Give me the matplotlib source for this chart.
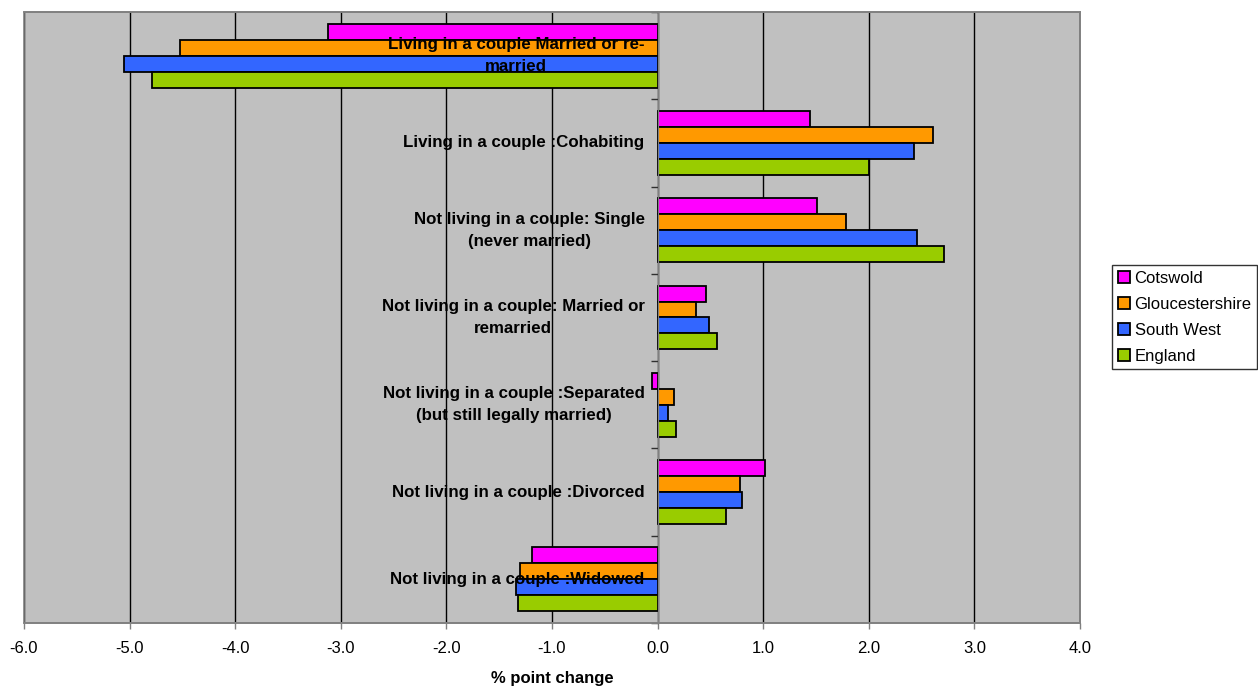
import matplotlib
matplotlib.use("Agg")
import matplotlib.pyplot as plt
import numpy as np
from matplotlib.patches import Rectangle

plt.rcParams['font.family'] = ['Liberation Sans', 'DejaVu Sans']

# Data (% point change)
categories = [
    "Living in a couple Married or re-\nmarried",
    "Living in a couple :Cohabiting",
    "Not living in a couple: Single\n(never married)",
    "Not living in a couple: Married or\nremarried",
    "Not living in a couple :Separated\n(but still legally married)",
    "Not living in a couple :Divorced",
    "Not living in a couple :Widowed",
]
series_names = ["Cotswold", "Gloucestershire", "South West", "England"]
cotswold = [-3.12, 1.44, 1.51, 0.46, -0.05, 1.02, -1.19]
gloucestershire = [-4.52, 2.61, 1.78, 0.36, 0.16, 0.78, -1.30]
south_west = [-5.05, 2.43, 2.46, 0.49, 0.10, 0.80, -1.34]
england = [-4.79, 2.00, 2.71, 0.56, 0.17, 0.65, -1.32]
colors = ["#FF00FF", "#FF9900", "#3366FF", "#99CC00"]
xticks = [-6, -5, -4, -3, -2, -1, 0, 1, 2, 3, 4]

fig = plt.figure(figsize=(12.58, 6.87), dpi=100)
ax = fig.add_axes([0.019, 0.0932, 0.8395, 0.8893])
ax.set_facecolor("#C0C0C0")

y = np.arange(len(categories))
h = 0.183
all_series = [cotswold, gloucestershire, south_west, england]
for k, (vals, name, col) in enumerate(zip(all_series, series_names, colors)):
    ax.barh(y + (k - 1.5) * h, vals, height=h, color=col, edgecolor="black",
            linewidth=1.3, label=name, zorder=2)

ax.set_xlim(-6, 4)
ax.set_ylim(len(categories) - 0.5, -0.5)
ax.set_axisbelow(True)
ax.set_xticks(xticks)
ax.set_xticklabels([f"{t:.1f}" for t in xticks], fontsize=12)
ax.xaxis.grid(True, color="black", linewidth=1.0)
ax.tick_params(axis="x", direction="out", length=4, width=1, color="#808080", pad=9)

# y axis drawn at zero, ticks on category boundaries
ax.spines["left"].set_position(("data", 0))
ax.spines["left"].set_color("#808080")
ax.spines["left"].set_zorder(3)
ax.set_yticks(np.arange(-0.5, len(categories), 1.0))
ax.set_yticklabels([])
ax.tick_params(axis="y", direction="out", length=5, width=1, color="#303030")
for s in ["top", "right", "bottom"]:
    ax.spines[s].set_color("#808080")
    ax.spines[s].set_linewidth(1.2)
ax.add_patch(Rectangle((0, 0), 1, 1, transform=ax.transAxes, fill=False,
                       edgecolor="#808080", linewidth=1.2, zorder=3, clip_on=False))

for i, lab in enumerate(categories):
    ax.annotate(lab, xy=(0, i), xytext=(-13, 0), textcoords="offset pixels",
                ha="right", va="center", multialignment="center",
                fontsize=12.15, fontweight="bold", linespacing=1.56, zorder=5)

ax.set_xlabel("% point change", fontsize=12, fontweight="bold", labelpad=11)

leg = ax.legend(loc="center left", bbox_to_anchor=(0.884, 0.538),
                bbox_transform=fig.transFigure, fontsize=12, frameon=True,
                fancybox=False, edgecolor="black", handlelength=0.7,
                handleheight=0.7, handletextpad=0.3, borderpad=0.35,
                labelspacing=0.65, borderaxespad=0)
leg.get_frame().set_linewidth(1.0)

fig.savefig("out.png", dpi=100)
